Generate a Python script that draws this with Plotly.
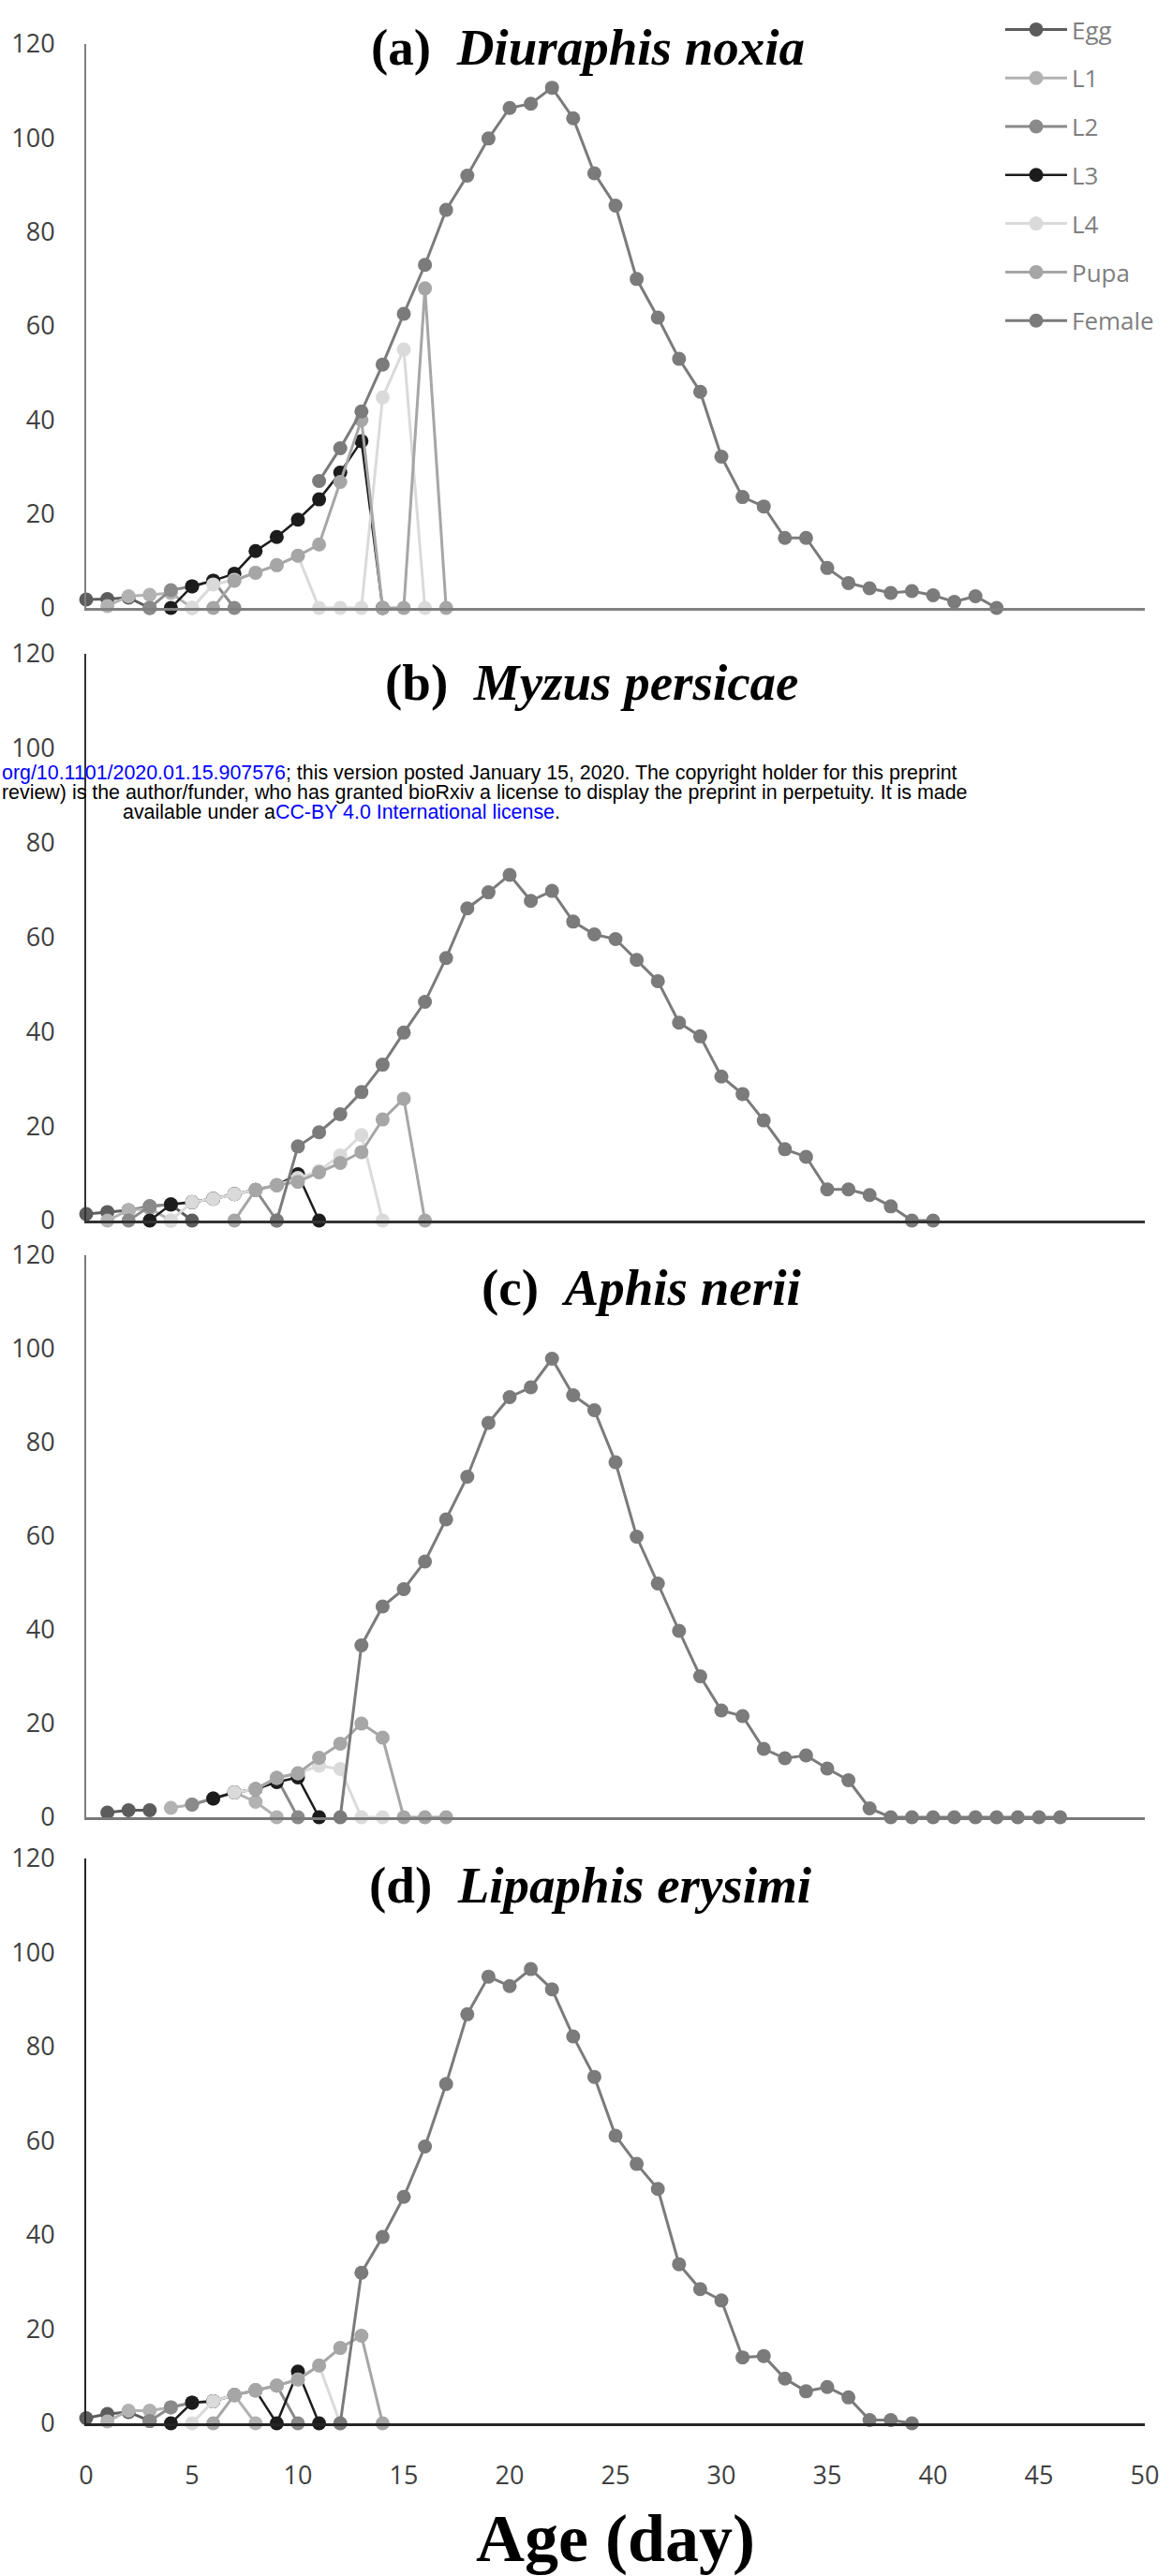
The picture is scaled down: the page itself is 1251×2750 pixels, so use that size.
import plotly.graph_objects as go

W, H = 1251, 2750

STAGES = ["Egg", "L1", "L2", "L3", "L4", "Pupa", "Female"]
COLORS = ["#5c5c5c", "#b2b2b2", "#8a8a8a", "#1c1c1c", "#dadada", "#a6a6a6", "#7b7b7b"]

# ---------------- (a) Diuraphis noxia ----------------
A_EGG_DAYS = [0, 1, 2, 3]
A_EGG = [1.8, 1.9, 2.2, 0]
A_L1_DAYS = [1, 2, 3, 4, 5]
A_L1 = [0.4, 2.5, 2.8, 3.2, 0]
A_L2_DAYS = [3, 4, 5, 6, 7]
A_L2 = [0, 3.8, 4.6, 5.8, 0]
A_L3_DAYS = [4, 5, 6, 7, 8, 9, 10, 11, 12, 13, 14]
A_L3 = [0, 4.6, 5.8, 7.3, 12.1, 15.1, 18.8, 23.1, 28.8, 35.5, 0]
A_L4_DAYS = [5, 6, 7, 8, 9, 10, 11, 12, 13, 14, 15, 16]
A_L4 = [0, 5.0, 6.0, 7.5, 9.1, 11.1, 0, 0, 0, 44.8, 55.0, 0]
A_PUPA_DAYS = [6, 7, 8, 9, 10, 11, 12, 13, 14, 15, 16, 17]
A_PUPA = [0, 5.8, 7.5, 9.1, 11.1, 13.5, 26.8, 40.0, 0, 0, 68.0, 0]
A_FEMALE_DAYS = list(range(11, 44))
A_FEMALE = [27.0, 34.0, 41.8, 51.8, 62.6, 73.0, 84.7, 92.0, 99.9, 106.4, 107.3, 110.7,
            104.2, 92.5, 85.6, 70.0, 61.8, 53.0, 46.0, 32.2, 23.6, 21.6, 14.9, 14.9,
            8.5, 5.3, 4.2, 3.2, 3.6, 2.7, 1.3, 2.5, 0]

# ---------------- (b) Myzus persicae ----------------
B_EGG_DAYS = [0, 1, 2, 3, 4, 5]
B_EGG = [1.4, 1.8, 2.2, 3.0, 3.4, 0]
B_L1_DAYS = [1, 2, 3, 4]
B_L1 = [0, 2.2, 2.6, 0]
B_L2_DAYS = [2, 3, 4, 5, 6, 7, 8, 9]
B_L2 = [0, 3.0, 3.4, 3.9, 4.6, 5.6, 6.5, 0]
B_L3_DAYS = [3, 4, 5, 6, 7, 8, 9, 10, 11]
B_L3 = [0, 3.4, 3.9, 4.6, 5.6, 6.5, 7.5, 9.8, 0]
B_L4_DAYS = [4, 5, 6, 7, 8, 9, 10, 11, 12, 13, 14]
B_L4 = [0, 3.9, 4.6, 5.6, 6.5, 7.5, 9.0, 10.5, 13.8, 18.1, 0]
B_PUPA_DAYS = [7, 8, 9, 10, 11, 12, 13, 14, 15, 16]
B_PUPA = [0, 6.5, 7.5, 8.2, 10.2, 12.2, 14.5, 21.4, 25.8, 0]
B_FEMALE_DAYS = list(range(9, 41))
B_FEMALE = [0, 15.7, 18.7, 22.5, 27.2, 33.0, 39.8, 46.3, 55.6, 66.1, 69.5, 73.2, 67.7,
            69.8, 63.3, 60.6, 59.6, 55.2, 50.7, 41.9, 39.0, 30.5, 26.8, 21.2, 15.1,
            13.5, 6.6, 6.6, 5.4, 3.0, 0, 0]

# ---------------- (c) Aphis nerii ----------------
C_EGG_DAYS = [1, 2, 3]
C_EGG = [1.0, 1.5, 1.5]
C_L1_DAYS = [4, 5, 6, 7, 8, 9]
C_L1 = [2.0, 2.7, 4.0, 5.3, 3.3, 0]
C_L2_DAYS = [5, 6, 7, 8, 9, 10]
C_L2 = [2.7, 4.0, 5.3, 6.0, 8.4, 0]
C_L3_DAYS = [6, 7, 8, 9, 10, 11]
C_L3 = [4.0, 5.3, 6.0, 7.5, 8.5, 0]
C_L4_DAYS = [7, 8, 9, 10, 11, 12, 13, 14]
C_L4 = [5.3, 6.0, 8.4, 9.4, 11.0, 10.3, 0, 0]
C_PUPA_DAYS = [8, 9, 10, 11, 12, 13, 14, 15, 16, 17]
C_PUPA = [6.0, 8.4, 9.4, 12.7, 15.7, 20.0, 17.0, 0, 0, 0]
C_FEMALE_DAYS = list(range(12, 47))
C_FEMALE = [0, 36.7, 45.0, 48.7, 54.6, 63.6, 72.7, 84.2, 89.7, 91.8, 97.9, 90.1, 86.9,
            75.8, 59.9, 49.9, 39.8, 30.1, 22.8, 21.6, 14.6, 12.6, 13.2, 10.4, 7.9, 1.9,
            0, 0, 0, 0, 0, 0, 0, 0, 0]

# ---------------- (d) Lipaphis erysimi ----------------
D_EGG_DAYS = [0, 1, 2, 3]
D_EGG = [1.1, 2.0, 2.4, 0.5]
D_L1_DAYS = [1, 2, 3, 4, 5, 6, 7, 8]
D_L1 = [0.4, 2.7, 2.7, 3.4, 4.4, 4.7, 6.0, 0]
D_L2_DAYS = [3, 4, 5, 6, 7, 8, 9, 10]
D_L2 = [0.5, 3.4, 4.4, 4.7, 6.0, 7.0, 8.0, 0]
D_L3_DAYS = [4, 5, 6, 7, 8, 9, 10, 11]
D_L3 = [0, 4.4, 4.7, 6.0, 7.0, 0, 11.0, 0]
D_L4_DAYS = [5, 6, 7, 8, 9, 10, 11, 12]
D_L4 = [0, 4.7, 6.0, 7.0, 8.0, 9.3, 12.3, 0]
D_PUPA_DAYS = [6, 7, 8, 9, 10, 11, 12, 13, 14]
D_PUPA = [0, 6.0, 7.0, 8.0, 9.3, 12.3, 16.0, 18.6, 0]
D_FEMALE_DAYS = list(range(12, 40))
D_FEMALE = [0, 32.0, 39.6, 48.1, 58.8, 72.1, 86.9, 94.9, 92.9, 96.5, 92.2, 82.2, 73.6,
            61.1, 55.1, 49.8, 33.8, 28.5, 26.1, 14.0, 14.3, 9.5, 6.8, 7.7, 5.5, 0.7,
            0.7, 0]

TITLES = ["(a)", "(b)", "(c)", "(d)"]
SPECIES = ["Diuraphis noxia", "Myzus persicae", "Aphis nerii", "Lipaphis erysimi"]
X_TICKS = [0, 5, 10, 15, 20, 25, 30, 35, 40, 45, 50]
Y_TICKS = [0, 20, 40, 60, 80, 100, 120]
X_TITLE = "Age (day)"

PANELS = [
    [(A_EGG_DAYS, A_EGG), (A_L1_DAYS, A_L1), (A_L2_DAYS, A_L2), (A_L3_DAYS, A_L3),
     (A_L4_DAYS, A_L4), (A_PUPA_DAYS, A_PUPA), (A_FEMALE_DAYS, A_FEMALE)],
    [(B_EGG_DAYS, B_EGG), (B_L1_DAYS, B_L1), (B_L2_DAYS, B_L2), (B_L3_DAYS, B_L3),
     (B_L4_DAYS, B_L4), (B_PUPA_DAYS, B_PUPA), (B_FEMALE_DAYS, B_FEMALE)],
    [(C_EGG_DAYS, C_EGG), (C_L1_DAYS, C_L1), (C_L2_DAYS, C_L2), (C_L3_DAYS, C_L3),
     (C_L4_DAYS, C_L4), (C_PUPA_DAYS, C_PUPA), (C_FEMALE_DAYS, C_FEMALE)],
    [(D_EGG_DAYS, D_EGG), (D_L1_DAYS, D_L1), (D_L2_DAYS, D_L2), (D_L3_DAYS, D_L3),
     (D_L4_DAYS, D_L4), (D_PUPA_DAYS, D_PUPA), (D_FEMALE_DAYS, D_FEMALE)],
]

# pixel layout (top, bottom) of each plot area
PLOT_PX = [(47, 649), (698, 1303), (1340, 1940), (1984, 2587)]
X_PX = (92, 1222)
AXIS_COLORS = ["#808080", "#333333", "#7a7a7a", "#262626"]
TITLE_POS = [(627, 50), (632, 729), (684, 1374), (630, 2012)]

fig = go.Figure()

for i, panel in enumerate(PANELS):
    for s, (days, vals) in enumerate(panel):
        lw = 2.5 if STAGES[s] == "L3" else 3
        fig.add_trace(go.Scatter(
            x=days, y=vals, mode="lines+markers", name=STAGES[s],
            legendgroup=STAGES[s], showlegend=(i == 0),
            line=dict(color=COLORS[s], width=lw),
            marker=dict(color=COLORS[s], size=15),
            xaxis="x" if i == 0 else f"x{i+1}",
            yaxis="y" if i == 0 else f"y{i+1}",
            cliponaxis=False,
        ))

layout = dict(
    width=W, height=H,
    margin=dict(l=0, r=0, t=0, b=0, pad=0, autoexpand=False),
    paper_bgcolor="white", plot_bgcolor="white",
    showlegend=True,
    legend=dict(
        x=1068 / W, y=1 - 8 / H, xanchor="left", yanchor="top",
        font=dict(family="Open Sans", size=26, color="#7f7f7f"),
        tracegroupgap=15, bgcolor="rgba(0,0,0,0)", itemwidth=66,
    ),
)

for i in range(4):
    top, bot = PLOT_PX[i]
    xk = "xaxis" if i == 0 else f"xaxis{i+1}"
    yk = "yaxis" if i == 0 else f"yaxis{i+1}"
    ya = "y" if i == 0 else f"y{i+1}"
    xa = "x" if i == 0 else f"x{i+1}"
    last = (i == 3)
    layout[xk] = dict(
        domain=[X_PX[0] / W, X_PX[1] / W], range=[0, 50], anchor=ya,
        automargin=False,
        showline=True, linecolor=AXIS_COLORS[i], linewidth=3,
        showgrid=False, zeroline=False, ticks="",
        showticklabels=last, tickvals=X_TICKS,
        tickfont=dict(family="Open Sans", size=27, color="#404040"),
        ticklabelstandoff=30,
    )
    layout[yk] = dict(
        domain=[1 - bot / H, 1 - top / H], range=[0, 120], anchor=xa,
        automargin=False,
        showline=True, linecolor=AXIS_COLORS[i], linewidth=2,
        showgrid=False, zeroline=False, ticks="", tickvals=Y_TICKS,
        tickfont=dict(family="Open Sans", size=27, color="#404040"),
        ticklabelstandoff=26,
    )

annotations = []
for i in range(4):
    cx, cy = TITLE_POS[i]
    annotations.append(dict(
        xref="paper", yref="paper", x=cx / W, y=1 - cy / H,
        xanchor="center", yanchor="middle", showarrow=False,
        text=f"<b>{TITLES[i]}&nbsp;&nbsp;<i>{SPECIES[i]}</i></b>",
        font=dict(family="Liberation Serif", size=55, color="black"),
    ))

annotations.append(dict(
    xref="paper", yref="paper", x=657 / W, y=1 - 2710 / H,
    xanchor="center", yanchor="middle", showarrow=False,
    text=f"<b>{X_TITLE}</b>",
    font=dict(family="Liberation Serif", size=72, color="black"),
))

WM_LINES = [
    ('<span style="color:#0000ff">org/10.1101/2020.01.15.907576</span>; this version posted January 15, 2020. The copyright holder for this preprint', 0, 825),
    ("review) is the author/funder, who has granted bioRxiv a license to display the preprint in perpetuity. It is made", 0, 846),
    ('available under a<span style="color:#0000ff">CC-BY 4.0 International license</span>.', 129, 867),
]
for txt, lx, ly in WM_LINES:
    annotations.append(dict(
        xref="paper", yref="paper", x=lx / W, y=1 - ly / H,
        xanchor="left", yanchor="middle", showarrow=False, text=txt,
        font=dict(family="Liberation Sans", size=21.4, color="black"),
    ))

layout["annotations"] = annotations
fig.update_layout(**layout)
fig.write_html("out.html")
